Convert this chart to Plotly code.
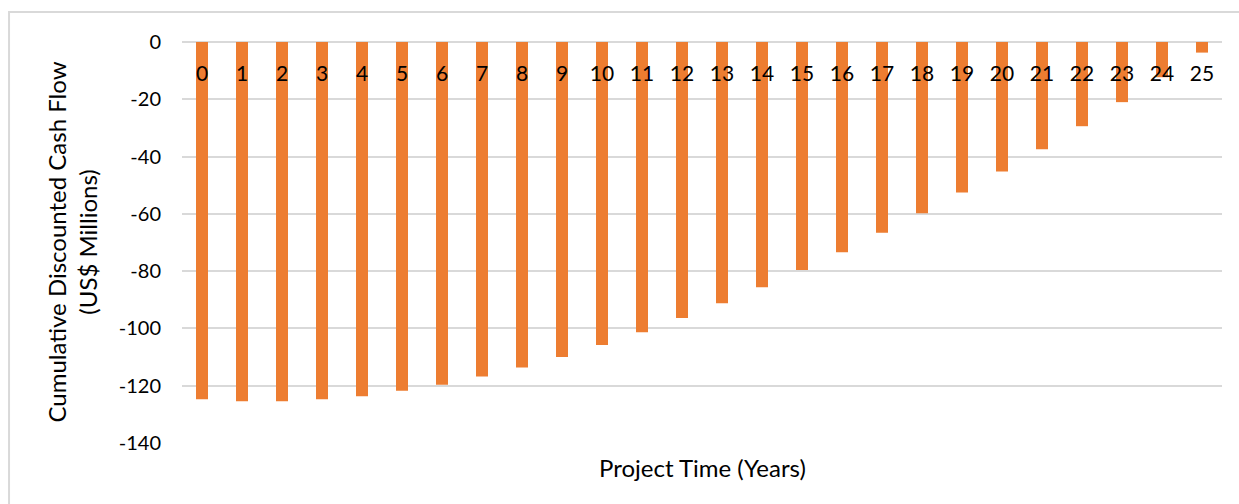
import plotly.graph_objects as go

# Project years and cumulative discounted cash flow (US$ millions)
years = [str(y) for y in range(26)]
cum_dcf = [-124.7, -125.4, -125.4, -124.7, -123.7, -121.8, -119.7, -116.8,
           -113.6, -110.0, -105.8, -101.3, -96.4, -91.2, -85.6, -79.6,
           -73.4, -66.6, -59.8, -52.5, -45.2, -37.4, -29.4, -21.0, -12.3, -3.7]
y_ticks = [0, -20, -40, -60, -80, -100, -120, -140]

FONT = "Lato"
GRID = "#d9d9d9"

fig = go.Figure(
    go.Bar(
        x=years,
        y=cum_dcf,
        width=0.3,
        marker=dict(color="#ED7D31", line=dict(width=0)),
    )
)

fig.update_layout(
    width=1239,
    height=504,
    margin=dict(l=182, r=17, t=41, b=61),
    paper_bgcolor="white",
    plot_bgcolor="white",
    showlegend=False,
    font=dict(family=FONT, size=20, color="#000000"),
    # category labels sit just under the zero line at the top of the plot
    xaxis=dict(
        type="category",
        side="top",
        ticklabelposition="outside",
        ticklabelstandoff=-45,
        showgrid=False,
        showline=False,
        ticks="",
        zeroline=False,
        tickfont=dict(family=FONT, size=21, color="#000000"),
    ),
    yaxis=dict(
        range=[-140, 0.35],
        tickvals=y_ticks,
        ticktext=[str(v) for v in y_ticks],
        showgrid=True,
        gridcolor=GRID,
        gridwidth=1.5,
        zeroline=True,
        zerolinecolor=GRID,
        zerolinewidth=1.5,
        showline=False,
        ticks="",
        ticklabelstandoff=20,
        tickfont=dict(family=FONT, size=20, color="#000000"),
        title=dict(
            text="Cumulative Discounted Cash Flow<br>(US$ Millions)",
            font=dict(family=FONT, size=24, color="#000000"),
            standoff=14,
        ),
    ),
    annotations=[
        dict(
            text="Project Time (Years)",
            xref="paper", yref="paper",
            x=0.5, y=-0.02,
            xanchor="center", yanchor="top",
            showarrow=False,
            font=dict(family=FONT, size=24, color="#000000"),
        )
    ],
    shapes=[
        dict(
            type="rect",
            xref="paper", yref="paper",
            x0=-0.1663, x1=1.03, y0=-0.2, y1=1.0723,
            line=dict(color=GRID, width=2),
            fillcolor="rgba(0,0,0,0)",
            layer="below",
        )
    ],
)

fig.write_html("out.html")
